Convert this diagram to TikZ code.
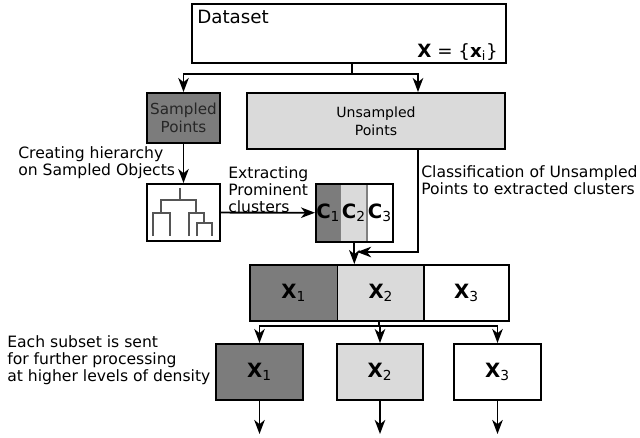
\documentclass[tikz,border=0pt]{standalone}
\usepackage{fontspec}
\setmainfont{DejaVu Sans}
\usetikzlibrary{positioning,arrows.meta,fit}
\definecolor{densefill}{HTML}{7C7C7C}
\definecolor{sparsefill}{HTML}{DADADA}
\definecolor{dendline}{HTML}{555555}

\begin{document}
\begin{tikzpicture}[x=0.025cm,y=-0.025cm,
    box/.style={draw,line width=1.4pt,inner sep=0pt},
    arr/.style={line width=1.3pt,-{Stealth[length=10pt,width=7.5pt,inset=3pt]}},
    lbl/.style={font=\fontsize{11.1}{12.2}\selectfont,align=left,anchor=west,inner sep=0pt},
    boxtxt/.style={font=\fontsize{10.8}{12.5}\selectfont,align=center},
    sect/.style={inner sep=0pt,font=\fontsize{14}{16}\selectfont}]
  \useasboundingbox (0,0) rectangle (640,437);

  % data set on top
  \node[box,minimum width=7.85cm,minimum height=1.475cm] (data) at (349,33.5) {};
  \node[font=\fontsize{13}{15}\selectfont,anchor=base west,inner sep=0pt] (dname) at (197,23.5) {Dataset};
  \node[font=\fontsize{13}{15}\selectfont,inner sep=0pt,anchor=base east] (dset) at (498,57) {\textbf{X} = \{\textbf{x}\textsubscript{i}\}};

  \node[box,boxtxt,fill=densefill,text=black!85,minimum width=1.825cm,minimum height=1.25cm] (samp) at (183.5,118) {Sampled\\Points};
  \node[box,fill=sparsefill,font=\fontsize{10}{12.5}\selectfont,align=center,minimum width=6.45cm,minimum height=1.4cm] (unsamp) at (376,121) {Unsampled\\Points};

  \coordinate (fork) at (352,74);
  \coordinate (ucol) at (418,0);
  \draw[line width=1.3pt] (data.south -| fork) -- (fork);
  \draw[arr] (fork) -| (samp.north);
  \draw[arr] (fork) -| (ucol |- unsamp.north);

  % hierarchy icon
  \node[box,minimum width=1.825cm,minimum height=1.425cm] (dendro) at (183.5,212.5) {};
  \draw[dendline,line width=1pt] (180,188) -- (180,200);
  \draw[dendline,line width=1pt] (161,213) |- (196,200) -- (196,213);
  \draw[dendline,line width=1pt] (153,236) |- (170,213) -- (170,236);
  \draw[dendline,line width=1pt] (189,236) |- (204,213) -- (204,223);
  \draw[dendline,line width=1pt] (197,236) |- (212,223) -- (212,236);

  % extracted clusters
  \node[sect,fill=densefill,minimum width=0.55cm,minimum height=1.425cm,anchor=north west] (c1) at (316,184) {\textbf{C}\textsubscript{1}};
  \node[sect,fill=sparsefill,minimum width=0.65cm,minimum height=1.425cm,right=0pt of c1] (c2) {\textbf{C}\textsubscript{2}};
  \node[sect,fill=white,minimum width=0.625cm,minimum height=1.425cm,right=0pt of c2] (c3) {\textbf{C}\textsubscript{3}};
  \draw[gray,line width=0.8pt] (c1.north east) -- (c1.south east);
  \draw[gray,line width=0.8pt] (c2.north east) -- (c2.south east);
  \node[box,fit=(c1)(c3)] (clus) {};

  \draw[arr] (samp) -- (dendro);
  \draw[arr] (dendro) -- (clus);

  % partition of all points
  \node[sect,fill=densefill,minimum width=2.175cm,minimum height=1.375cm,anchor=north west] (s1) at (250,265) {\textbf{X}\textsubscript{1}};
  \node[sect,fill=sparsefill,minimum width=2.15cm,minimum height=1.375cm,right=0pt of s1] (s2) {\textbf{X}\textsubscript{2}};
  \node[sect,fill=white,minimum width=2.1cm,minimum height=1.375cm,right=0pt of s2] (s3) {\textbf{X}\textsubscript{3}};
  \draw[line width=1pt] (s1.north east) -- (s1.south east);
  \draw[line width=1pt] (s2.north east) -- (s2.south east);
  \node[box,fit=(s1)(s3)] (split) {};

  \coordinate (jrow) at (0,252);
  \coordinate (join) at ([xshift=2pt]clus.south |- jrow);
  \draw[arr] (ucol |- unsamp.south) |- (join);
  \draw[arr] (clus.south) -- (clus.south |- split.north);

  % subsets
  \node[box,sect,fill=densefill,minimum width=2.175cm,minimum height=1.4cm] (sub1) at (259.5,372) {\textbf{X}\textsubscript{1}};
  \node[box,sect,fill=sparsefill,minimum width=2.15cm,minimum height=1.4cm] (sub2) at (380,372) {\textbf{X}\textsubscript{2}};
  \node[box,sect,fill=white,minimum width=2.175cm,minimum height=1.4cm] (sub3) at (497.5,372) {\textbf{X}\textsubscript{3}};

  \coordinate (srow) at (0,326);
  \draw[line width=1.3pt] (split.south) -- (split.south |- srow) coordinate (spread);
  \foreach \i in {1,2,3}
    \draw[arr] (spread) -| (sub\i.north);
  \foreach \i in {1,2,3}
    \draw[arr] (sub\i.south) -- ++(0,33) coordinate (out\i);

  % step labels
  \node[lbl] (hier) at (18,163) {Creating hierarchy\\on Sampled Objects};
  \node[lbl] (extr) at (228,190) {Extracting\\Prominent\\clusters};
  \node[lbl] (clas) at (421,180.5) {Classification of Unsampled\\Points to extracted clusters};
  \node[lbl] (each) at (7,360) {Each subset is sent\\for further processing\\at higher levels of density};
\end{tikzpicture}
\end{document}
